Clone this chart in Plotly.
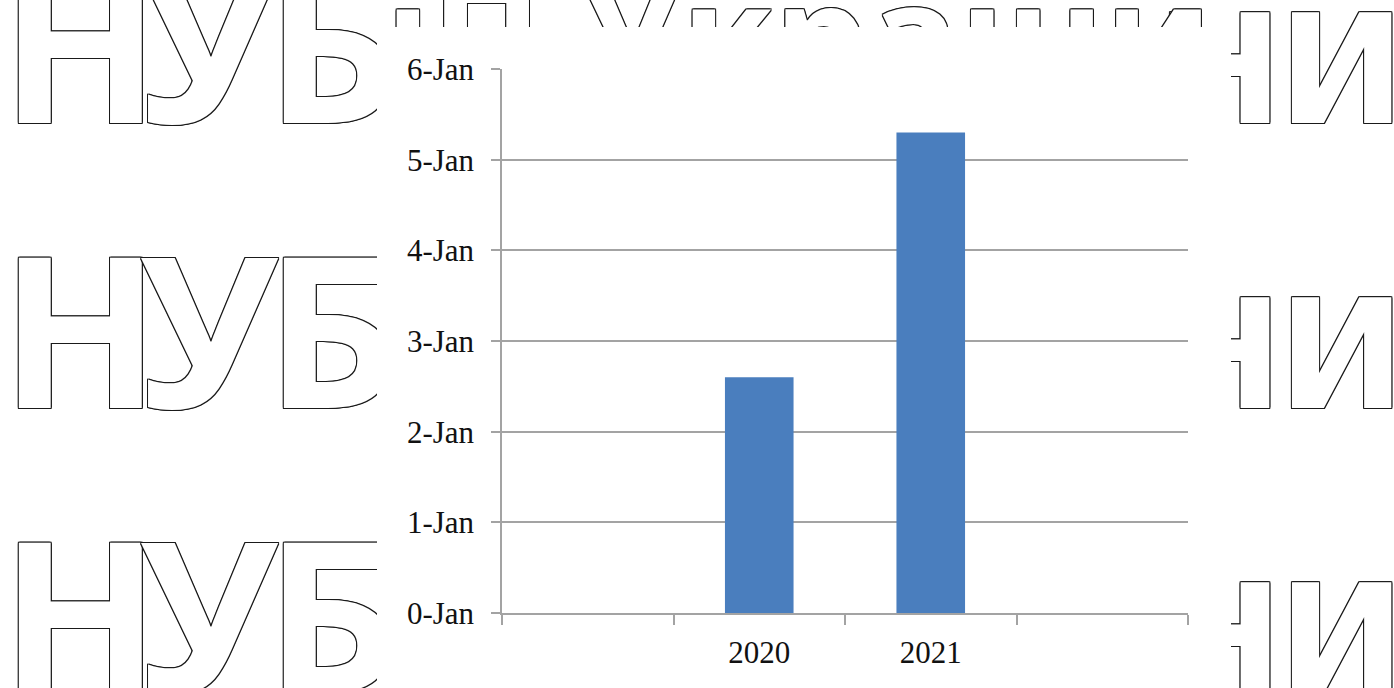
import plotly.graph_objects as go

# ---------------- data ----------------
categories = ["2019", "2020", "2021", "2022"]
values = [None, 2.6, 5.3, None]
x_tick_labels = ["", "2020", "2021", ""]
y_tick_values = [0, 1, 2, 3, 4, 5, 6]
y_tick_labels = ["0-Jan", "1-Jan", "2-Jan", "3-Jan", "4-Jan", "5-Jan", "6-Jan"]

# watermark texts (letters of the background watermark)
wm_left_letters = ["Н", "У", "Б"]
wm_right_letters = ["Н", "И"]
wm_top_text = "іП України"

# ---------------- layout constants ----------------
W, H = 1394, 688
PLOT_L, PLOT_R, PLOT_T, PLOT_B = 502, 1188, 69, 613
BOX = dict(x0=377, x1=1231, y0=27, y1=688)
BASELINES = [123, 408, 693]
LEFT_X = [0, 139, 265]
RIGHT_X = [1156, 1278]

outline = ("1px 1px 0 #1a1a1a, -1px -1px 0 #1a1a1a, 1px -1px 0 #1a1a1a, -1px 1px 0 #1a1a1a, "
           "1px 0 0 #1a1a1a, -1px 0 0 #1a1a1a, 0 1px 0 #1a1a1a, 0 -1px 0 #1a1a1a")

fig = go.Figure()

def wm_text(xs, baseline, texts, size, weight, family="Open Sans"):
    fig.add_trace(go.Scatter(
        x=xs, y=[baseline - 0.25 * size] * len(xs), text=texts, mode="text",
        textposition="middle right", cliponaxis=False, hoverinfo="skip",
        showlegend=False, xaxis="x", yaxis="y",
        textfont=dict(family=family, size=size, weight=weight,
                      color="white", shadow=outline),
    ))

for b in BASELINES:
    wm_text(LEFT_X, b, wm_left_letters, 210, 700)
    wm_text(RIGHT_X, b, wm_right_letters, 152, 700, family="DejaVu Sans")
wm_text([385], 92, [wm_top_text], 150, 700)

# white box that hides the watermark behind the chart
fig.add_trace(go.Scatter(
    x=[BOX["x0"], BOX["x1"], BOX["x1"], BOX["x0"], BOX["x0"]],
    y=[BOX["y0"], BOX["y0"], BOX["y1"], BOX["y1"], BOX["y0"]],
    mode="lines", fill="toself", fillcolor="white", line=dict(width=0, color="white"),
    hoverinfo="skip", showlegend=False, xaxis="x", yaxis="y",
))

# ---------------- chart ----------------
fig.add_trace(go.Bar(
    x=categories, y=values, marker=dict(color="#4A7EBE", line=dict(width=0)),
    width=0.4, xaxis="x2", yaxis="y2", showlegend=False,
))

grid_col = "#A3A3A3"
tick_font = dict(family="Liberation Serif", size=31, color="#111111")

fig.update_layout(
    width=W, height=H,
    margin=dict(l=0, r=0, t=0, b=0, autoexpand=False),
    paper_bgcolor="white", plot_bgcolor="rgba(0,0,0,0)",
    showlegend=False,
    xaxis=dict(domain=[0, 1], range=[0, W], visible=False, fixedrange=True, automargin=False),
    yaxis=dict(domain=[0, 1], range=[H, 0], visible=False, fixedrange=True, automargin=False),
    xaxis2=dict(
        domain=[PLOT_L / W, PLOT_R / W], anchor="y2", type="category", automargin=False,
        categoryorder="array", categoryarray=categories, range=[-0.5, 3.5],
        tickmode="array", tickvals=categories, ticktext=x_tick_labels,
        tickson="boundaries", ticks="outside", ticklen=10, tickwidth=1.5, tickcolor=grid_col,
        showline=True, linecolor=grid_col, linewidth=2, showgrid=False,
        tickfont=tick_font, ticklabelstandoff=11,
    ),
    yaxis2=dict(
        domain=[1 - PLOT_B / H, 1 - PLOT_T / H], anchor="x2", range=[0, 6], automargin=False,
        tickmode="array", tickvals=y_tick_values, ticktext=y_tick_labels,
        ticks="outside", ticklen=9, tickwidth=1.5, tickcolor=grid_col,
        showline=True, linecolor=grid_col, linewidth=1.5,
        showgrid=True, gridcolor=grid_col, gridwidth=1.8, zeroline=False,
        tickfont=tick_font, ticklabelstandoff=11,
    ),
)

fig.write_html("out.html")
